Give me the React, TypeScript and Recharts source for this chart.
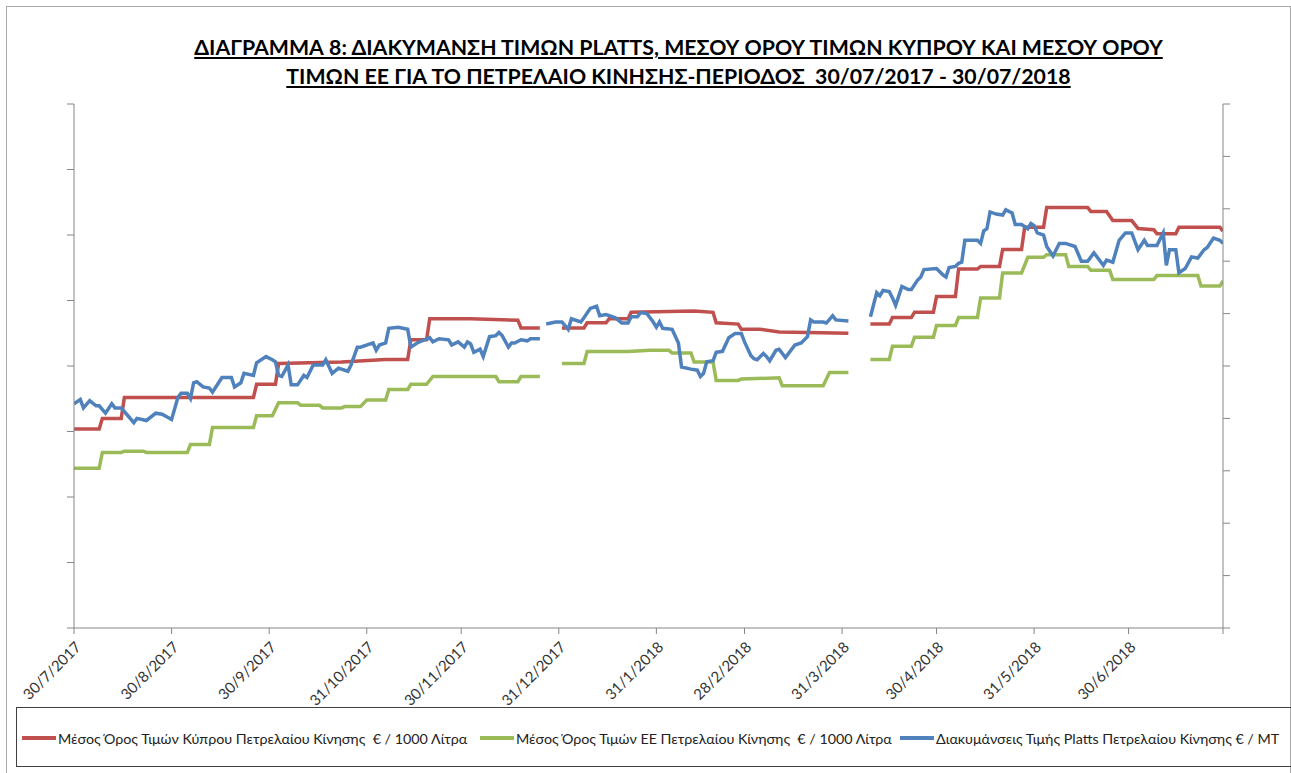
import React from 'react'
import { LineChart, Line, XAxis, YAxis } from 'recharts'

// x is the day count from 30/7/2017 (day 0) to 30/7/2018 (day 365)
const xTickDays = [0, 31, 62, 93, 123, 154, 185, 213, 244, 274, 305, 335, 365]
const xTickLabels = [
  '30/7/2017', '30/8/2017', '30/9/2017', '31/10/2017', '30/11/2017', '31/12/2017',
  '31/1/2018', '28/2/2018', '31/3/2018', '30/4/2018', '31/5/2018', '30/6/2018', '',
]

// left axis: € / 1000 litres, right axis: € / MT (no tick labels in the original)
const leftTicks = [1000, 1050, 1100, 1150, 1200, 1250, 1300, 1350, 1400]
const rightTicks = [200, 250, 300, 350, 400, 450, 500, 550, 600, 650, 700]

const seriesNames = [
  'Μέσος Όρος Τιμών Κύπρου Πετρελαίου Κίνησης  € / 1000 Λίτρα',
  'Μέσος Όρος Τιμών ΕΕ Πετρελαίου Κίνησης  € / 1000 Λίτρα',
  'Διακυμάνσεις Τιμής Platts Πετρελαίου Κίνησης € / MT',
]
const seriesColors = ['#C0504D', '#9BBB59', '#4F81BD']

// [day, price] — null marks the holiday gaps
const cyprusPrices: [number, number | null][] = [
  [0, 1152], [8, 1152], [9, 1160], [15, 1160], [16, 1176], [57, 1176], [58, 1186], [64, 1186],
  [65, 1202], [85, 1203], [99, 1205], [106, 1205], [107, 1220], [112, 1220], [113, 1236], [126, 1236],
  [141, 1235], [142, 1229], [148, 1229], [149, null], [155, 1229], [162, 1229], [163, 1233], [169, 1233],
  [170, 1236], [176, 1236], [177, 1241], [197, 1242], [203, 1241], [204, 1233], [211, 1232], [212, 1228],
  [218, 1228], [224, 1226], [246, 1225], [247, null], [253, 1232], [259, 1232], [260, 1237], [266, 1237],
  [267, 1241], [273, 1241], [274, 1253], [280, 1253], [281, 1274], [287, 1274], [288, 1276], [294, 1276],
  [295, 1289], [301, 1289], [302, 1306], [308, 1306], [309, 1321], [322, 1321], [323, 1318], [328, 1318],
  [330, 1311], [336, 1311], [338, 1305], [343, 1304], [344, 1301], [350, 1301], [351, 1306], [364, 1306],
  [365, 1303],
]

const euPrices: [number, number | null][] = [
  [0, 1122], [8, 1122], [9, 1134], [15, 1134], [16, 1135], [22, 1135], [23, 1134], [36, 1134],
  [37, 1140], [43, 1140], [44, 1153], [57, 1153], [58, 1162], [63, 1162], [65, 1172], [71, 1172],
  [72, 1170], [78, 1170], [79, 1168], [85, 1168], [86, 1169], [91, 1169], [93, 1174], [99, 1174],
  [100, 1182], [106, 1182], [107, 1186], [112, 1186], [114, 1192], [134, 1192], [135, 1188], [141, 1188],
  [142, 1192], [148, 1192], [149, null], [155, 1202], [162, 1202], [163, 1211], [176, 1211], [183, 1212],
  [189, 1212], [190, 1210], [196, 1210], [197, 1203], [203, 1203], [204, 1189], [211, 1189], [212, 1190],
  [224, 1191], [225, 1185], [238, 1185], [240, 1195], [246, 1195], [247, null], [253, 1205], [259, 1205],
  [260, 1215], [266, 1215], [267, 1222], [273, 1222], [274, 1231], [280, 1231], [281, 1237], [287, 1237],
  [288, 1252], [294, 1252], [295, 1271], [301, 1271], [303, 1283], [308, 1283], [309, 1285], [315, 1285],
  [316, 1276], [322, 1276], [323, 1273], [329, 1273], [330, 1266], [343, 1266], [344, 1269], [357, 1269],
  [358, 1261], [364, 1261], [365, 1265],
]

const plattsPrices: [number, number | null][] = [
  [0, 414], [2, 418], [3, 410], [5, 417], [7, 412], [8, 412], [10, 405], [12, 414], [13, 410], [15, 410],
  [17, 403], [19, 396], [20, 400], [23, 398], [26, 405], [28, 404], [31, 399], [33, 420], [34, 424], [36, 424],
  [37, 419], [38, 434], [39, 435], [41, 430], [43, 429], [44, 425], [47, 439], [50, 439], [51, 430], [53, 434],
  [54, 443], [57, 441], [58, 453], [61, 459], [63, 456], [64, 454], [65, 441], [66, 440], [68, 451], [69, 432],
  [71, 432], [73, 441], [74, 439], [76, 451], [79, 451], [80, 456], [82, 443], [84, 448], [87, 445], [88, 451],
  [90, 468], [91, 468], [95, 472], [96, 465], [97, 470], [99, 472], [100, 486], [103, 487], [106, 485], [107, 468],
  [109, 472], [113, 477], [114, 473], [116, 476], [119, 475], [120, 470], [122, 473], [124, 468], [125, 473], [126, 471],
  [127, 463], [129, 466], [130, 459], [132, 478], [134, 479], [135, 482], [136, 479], [138, 468], [139, 472], [140, 472],
  [142, 475], [144, 474], [145, 476], [148, 476], [149, null], [150, 490], [153, 492], [155, 492], [157, 485], [158, 495],
  [161, 492], [162, 496], [164, 505], [166, 507], [167, 498], [169, 499], [172, 496], [174, 491], [176, 491], [177, 497],
  [179, 497], [180, 501], [182, 500], [184, 492], [185, 487], [186, 492], [187, 486], [190, 485], [192, 472], [193, 449],
  [196, 447], [198, 446], [199, 440], [200, 443], [201, 454], [203, 455], [204, 463], [206, 464], [208, 477], [210, 481],
  [212, 481], [213, 473], [215, 460], [216, 457], [217, 456], [219, 462], [220, 459], [221, 455], [223, 465], [224, 466],
  [226, 458], [229, 470], [231, 472], [233, 478], [234, 494], [235, 492], [238, 492], [239, 491], [241, 498], [242, 494],
  [246, 493], [247, null], [253, 497], [255, 520], [256, 517], [257, 522], [259, 521], [260, 515], [261, 508], [263, 526],
  [265, 523], [266, 523], [268, 532], [269, 535], [270, 542], [274, 543], [276, 537], [277, 535], [278, 544], [280, 545],
  [281, 548], [282, 549], [283, 570], [285, 570], [287, 570], [288, 567], [289, 579], [290, 581], [291, 597], [293, 595],
  [295, 594], [296, 599], [298, 596], [299, 585], [301, 585], [303, 581], [304, 586], [305, 584], [306, 577], [308, 575],
  [309, 564], [311, 555], [313, 567], [315, 567], [318, 564], [320, 550], [322, 550], [324, 558], [327, 546], [328, 551],
  [330, 549], [332, 570], [334, 577], [336, 577], [338, 561], [340, 570], [341, 565], [344, 565], [346, 577], [347, 546],
  [348, 561], [350, 561], [351, 539], [353, 543], [355, 554], [357, 553], [359, 561], [360, 563], [362, 572], [364, 570],
  [365, 567],
]

const toRows = (pts: [number, number | null][]) => pts.map(([day, v]) => ({ day, v }))

const FONT = 'Lato, "Noto Sans", "DejaVu Sans", sans-serif'
const AXIS = '#868686'

const renderXTick = (props: any) => {
  const { x, y, payload } = props
  const label = xTickLabels[xTickDays.indexOf(payload.value)] || ''
  const px = x + 8
  const py = y + 12
  return (
    <text
      x={px}
      y={py}
      textAnchor="end"
      transform={`rotate(-45 ${px} ${py})`}
      fontSize={15}
      fontFamily={FONT}
      fill="#333"
    >
      {label}
    </text>
  )
}

const legendX = [22, 480, 900]

export default function App() {
  const lineData = [toRows(cyprusPrices), toRows(euPrices), toRows(plattsPrices)]
  const axisIds = ['left', 'left', 'right']

  return (
    <div
      style={{
        position: 'absolute',
        left: 0,
        top: 0,
        width: 1291,
        height: 773,
        background: '#fff',
        overflow: 'hidden',
        fontFamily: FONT,
      }}
    >
      {/* outer chart frame */}
      <div
        style={{
          position: 'absolute',
          left: 6,
          top: 6,
          width: 1283,
          height: 800,
          border: '1px solid #a8a8a8',
        }}
      />

      <div
        style={{
          position: 'absolute',
          left: 66,
          top: 33,
          width: 1225,
          textAlign: 'center',
          fontWeight: 700,
          fontSize: 21.3,
          lineHeight: '29px',
          textDecoration: 'underline',
          color: '#000',
          whiteSpace: 'pre',
        }}
      >
        <div>ΔΙΑΓΡΑΜΜΑ 8: ΔΙΑΚΥΜΑΝΣΗ ΤΙΜΩΝ PLATTS, ΜΕΣΟΥ ΟΡΟΥ ΤΙΜΩΝ ΚΥΠΡΟΥ ΚΑΙ ΜΕΣΟΥ ΟΡΟΥ</div>
        <div>ΤΙΜΩΝ ΕΕ ΓΙΑ ΤΟ ΠΕΤΡΕΛΑΙΟ ΚΙΝΗΣΗΣ-ΠΕΡΙΟΔΟΣ  30/07/2017 - 30/07/2018</div>
      </div>

      <div style={{ position: 'absolute', left: 0, top: 0 }}>
        <LineChart width={1291} height={773} margin={{ top: 104, right: 58, bottom: 85, left: 64 }}>
          <XAxis
            type="number"
            dataKey="day"
            domain={[0, 365]}
            ticks={xTickDays}
            interval={0}
            allowDataOverflow
            height={60}
            tickSize={6}
            stroke={AXIS}
            tick={renderXTick}
          />
          <YAxis
            yAxisId="left"
            domain={[1000, 1400]}
            ticks={leftTicks}
            interval={0}
            allowDataOverflow
            width={10}
            tickSize={7}
            stroke={AXIS}
            tick={() => <g />}
          />
          <YAxis
            yAxisId="right"
            orientation="right"
            domain={[200, 700]}
            ticks={rightTicks}
            interval={0}
            allowDataOverflow
            width={10}
            tickSize={7}
            stroke={AXIS}
            tick={() => <g />}
          />
          {lineData.map((rows, i) => (
            <Line
              key={seriesNames[i]}
              yAxisId={axisIds[i]}
              data={rows}
              dataKey="v"
              name={seriesNames[i]}
              type="linear"
              stroke={seriesColors[i]}
              strokeWidth={3.5}
              dot={false}
              activeDot={false}
              connectNulls={false}
              isAnimationActive={false}
            />
          ))}
        </LineChart>
      </div>

      {/* legend box */}
      <div
        style={{
          position: 'absolute',
          left: 16,
          top: 707,
          width: 1290,
          height: 60,
          border: '1.5px solid #404040',
          boxSizing: 'border-box',
        }}
      />
      {seriesNames.map((name, i) => (
        <div
          key={name}
          style={{
            position: 'absolute',
            left: legendX[i],
            top: 727,
            height: 22,
            display: 'flex',
            alignItems: 'center',
            whiteSpace: 'pre',
            fontSize: 14.3,
            color: '#222',
          }}
        >
          <span
            style={{
              display: 'inline-block',
              width: 34,
              height: 4,
              background: seriesColors[i],
              marginRight: 2,
            }}
          />
          <span>{name}</span>
        </div>
      ))}
    </div>
  )
}
